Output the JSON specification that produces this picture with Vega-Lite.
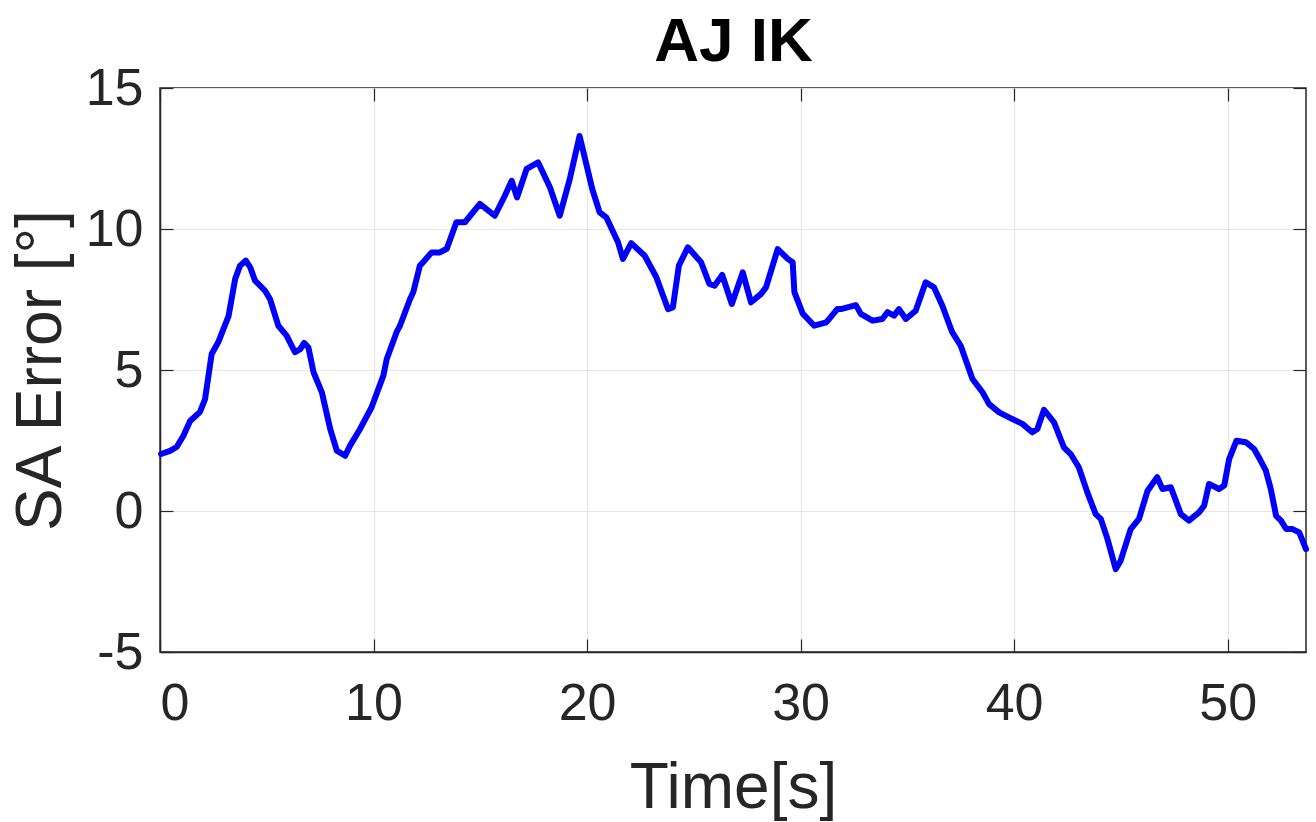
{
"$schema": "https://vega.github.io/schema/vega-lite/v6.json",
"width": 1146, "height": 564,
"autosize": {"type": "none"},
"padding": {"left": 160, "top": 88, "right": 10, "bottom": 170},
"background": "white",
"config": {
  "view": {"stroke": "#262626", "strokeWidth": 1.5},
  "axis": {"labelFont": "Liberation Sans", "titleFont": "Liberation Sans", "labelColor": "#262626", "titleColor": "#262626", "labelFontSize": 52, "titleFontSize": 64, "titleFontWeight": "normal", "domainColor": "#262626", "tickColor": "#262626", "gridColor": "#e6e6e6", "gridWidth": 1.2, "tickSize": -13, "tickWidth": 1.2, "domainWidth": 1.5}
},
"data": {"values": [
{"t":0.05,"v":2.02},{"t":0.47,"v":2.13},{"t":0.78,"v":2.27},{"t":1.09,"v":2.66},{"t":1.41,"v":3.19},{"t":1.87,"v":3.51},{"t":2.11,"v":3.97},{"t":2.42,"v":5.57},{"t":2.73,"v":5.99},{"t":3.21,"v":6.91},{"t":3.52,"v":8.23},{"t":3.75,"v":8.7},{"t":4.02,"v":8.88},{"t":4.22,"v":8.65},{"t":4.45,"v":8.17},{"t":4.92,"v":7.81},{"t":5.15,"v":7.52},{"t":5.54,"v":6.57},{"t":5.93,"v":6.22},{"t":6.32,"v":5.63},{"t":6.57,"v":5.74},{"t":6.75,"v":5.96},{"t":6.95,"v":5.8},{"t":7.19,"v":4.92},{"t":7.58,"v":4.21},{"t":7.97,"v":2.91},{"t":8.28,"v":2.14},{"t":8.67,"v":1.96},{"t":8.9,"v":2.32},{"t":9.37,"v":2.91},{"t":9.91,"v":3.68},{"t":10.46,"v":4.8},{"t":10.62,"v":5.39},{"t":11.08,"v":6.34},{"t":11.24,"v":6.57},{"t":11.71,"v":7.52},{"t":11.86,"v":7.76},{"t":12.17,"v":8.7},{"t":12.25,"v":8.76},{"t":12.72,"v":9.17},{"t":13.11,"v":9.17},{"t":13.43,"v":9.3},{"t":13.88,"v":10.24},{"t":14.28,"v":10.24},{"t":14.98,"v":10.89},{"t":15.68,"v":10.47},{"t":16.15,"v":11.18},{"t":16.47,"v":11.71},{"t":16.72,"v":11.12},{"t":17.17,"v":12.13},{"t":17.71,"v":12.36},{"t":18.26,"v":11.48},{"t":18.72,"v":10.47},{"t":19.19,"v":11.77},{"t":19.65,"v":13.3},{"t":20.25,"v":11.4},{"t":20.59,"v":10.59},{"t":20.91,"v":10.4},{"t":21.45,"v":9.53},{"t":21.68,"v":8.94},{"t":22.07,"v":9.5},{"t":22.7,"v":9.05},{"t":23.24,"v":8.3},{"t":23.79,"v":7.16},{"t":24.02,"v":7.22},{"t":24.3,"v":8.7},{"t":24.72,"v":9.35},{"t":25.34,"v":8.82},{"t":25.73,"v":8.05},{"t":25.97,"v":7.99},{"t":26.33,"v":8.37},{"t":26.78,"v":7.34},{"t":27.29,"v":8.46},{"t":27.68,"v":7.4},{"t":28.15,"v":7.7},{"t":28.38,"v":7.93},{"t":28.93,"v":9.29},{"t":29.4,"v":8.94},{"t":29.63,"v":8.82},{"t":29.71,"v":7.76},{"t":30.1,"v":7.0},{"t":30.64,"v":6.57},{"t":31.2,"v":6.69},{"t":31.34,"v":6.81},{"t":31.72,"v":7.16},{"t":31.89,"v":7.16},{"t":32.59,"v":7.3},{"t":32.82,"v":6.99},{"t":33.37,"v":6.75},{"t":33.83,"v":6.81},{"t":34.07,"v":7.05},{"t":34.38,"v":6.93},{"t":34.61,"v":7.16},{"t":34.93,"v":6.81},{"t":35.39,"v":7.1},{"t":35.86,"v":8.11},{"t":36.25,"v":7.93},{"t":36.64,"v":7.28},{"t":37.1,"v":6.34},{"t":37.5,"v":5.86},{"t":38.05,"v":4.68},{"t":38.52,"v":4.21},{"t":38.83,"v":3.79},{"t":39.3,"v":3.5},{"t":39.92,"v":3.26},{"t":40.39,"v":3.09},{"t":40.85,"v":2.79},{"t":41.09,"v":2.91},{"t":41.4,"v":3.59},{"t":41.87,"v":3.14},{"t":42.33,"v":2.26},{"t":42.65,"v":2.02},{"t":43.03,"v":1.55},{"t":43.43,"v":0.66},{"t":43.82,"v":-0.11},{"t":44.06,"v":-0.28},{"t":44.37,"v":-0.99},{"t":44.76,"v":-2.06},{"t":44.99,"v":-1.76},{"t":45.46,"v":-0.64},{"t":45.85,"v":-0.28},{"t":46.25,"v":0.72},{"t":46.7,"v":1.2},{"t":46.95,"v":0.78},{"t":47.34,"v":0.84},{"t":47.81,"v":-0.11},{"t":48.19,"v":-0.34},{"t":48.66,"v":-0.05},{"t":48.9,"v":0.19},{"t":49.13,"v":0.96},{"t":49.6,"v":0.78},{"t":49.84,"v":0.9},{"t":50.07,"v":1.84},{"t":50.41,"v":2.49},{"t":50.85,"v":2.44},{"t":51.24,"v":2.2},{"t":51.55,"v":1.78},{"t":51.79,"v":1.43},{"t":52.02,"v":0.78},{"t":52.27,"v":-0.17},{"t":52.5,"v":-0.34},{"t":52.74,"v":-0.64},{"t":53.04,"v":-0.64},{"t":53.35,"v":-0.76},{"t":53.67,"v":-1.35}
]},
"layer": [
  {
    "mark": {"type": "line", "color": "#0000ff", "strokeWidth": 6, "strokeJoin": "round", "strokeCap": "round"},
    "encoding": {
      "x": {"field": "t", "type": "quantitative", "scale": {"domain": [0, 53.67], "nice": false, "zero": false},
            "axis": {"values": [0,10,20,30,40,50], "title": "Time[s]", "grid": true, "labelPadding": 39, "titleY": 155, "titleBaseline": "alphabetic"}},
      "y": {"field": "v", "type": "quantitative", "scale": {"domain": [-5, 15], "nice": false, "zero": false},
            "axis": {"values": [-5,0,5,10,15], "title": "SA Error [°]", "grid": true, "labelPadding": 30, "labelExpr": "datum.value + ''", "titleX": -100, "titleBaseline": "alphabetic"}}
    }
  },
  {
    "mark": {"type": "line", "strokeOpacity": 0},
    "encoding": {
      "x": {"field": "t", "type": "quantitative", "axis": {"orient": "top", "values": [0,10,20,30,40,50], "labels": false, "domain": false, "grid": false, "title": "AJ IK", "titleFontSize": 62, "titleFontWeight": "bold", "titleColor": "black", "titleY": -28, "titleBaseline": "alphabetic"}},
      "y": {"field": "v", "type": "quantitative", "axis": {"orient": "right", "values": [-5,0,5,10,15], "labels": false, "domain": false, "grid": false, "title": null}}
    }
  }
],
"resolve": {"axis": {"x": "independent", "y": "independent"}}
}
